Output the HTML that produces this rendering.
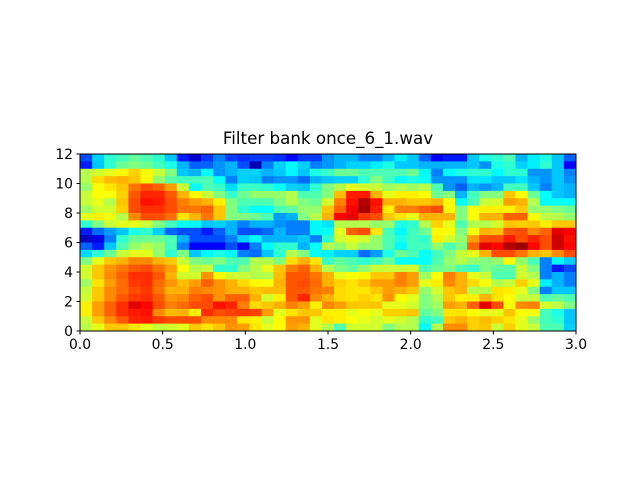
<!DOCTYPE html>
<html><head><meta charset="utf-8"><style>
html,body{margin:0;padding:0;background:#fff;}
svg{display:block;font-family:"DejaVu Sans","Liberation Sans",sans-serif;}
</style></head><body>
<svg id="chart" width="640" height="480" viewBox="0 0 640 480" xmlns="http://www.w3.org/2000/svg">
<rect width="640" height="480" fill="#fff"/>
<text x="328" y="144" text-anchor="middle" font-size="16.7">Filter bank once_6_1.wav</text>
<g id="cells"></g>
<rect x="80" y="154" width="496" height="177" fill="none" stroke="#000" stroke-width="1"/>
<g id="xaxis"></g>
<g id="yaxis"></g>
</svg>
<script>
const xTicks = [0.0, 0.5, 1.0, 1.5, 2.0, 2.5, 3.0];
const xTickLabels = ["0.0","0.5","1.0","1.5","2.0","2.5","3.0"];
const yTicks = [0, 2, 4, 6, 8, 10, 12];
const yTickLabels = ["0","2","4","6","8","10","12"];
const xMax = 3.0;
const yMax = 12;
// rows listed top (y=12) to bottom (y=0), 41 time frames each
const r00 = [0.2,0.33,0.42,0.44,0.47,0.45,0.42,0.32,0.15,0.08, 0.18,0.25,0.18,0.17,0.18,0.18,0.17,0.13,0.18,0.18, 0.27,0.3,0.3,0.25,0.25,0.3,0.36,0.32,0.22,0.12, 0.15,0.15,0.32,0.4,0.42,0.45,0.3,0.36,0.4,0.32,0.22];
const r01 = [0.15,0.32,0.42,0.48,0.5,0.48,0.44,0.4,0.3,0.22, 0.22,0.27,0.3,0.2,0.05,0.25,0.33,0.37,0.33,0.25, 0.27,0.3,0.33,0.33,0.36,0.4,0.32,0.32,0.3,0.3, 0.3,0.3,0.32,0.27,0.4,0.42,0.33,0.36,0.42,0.32,0.12];
const r02 = [0.55,0.58,0.6,0.63,0.67,0.63,0.57,0.5,0.32,0.3, 0.37,0.27,0.3,0.33,0.33,0.3,0.32,0.37,0.32,0.4, 0.43,0.48,0.48,0.45,0.45,0.45,0.45,0.48,0.37,0.25, 0.37,0.4,0.42,0.42,0.37,0.42,0.42,0.27,0.27,0.32,0.25];
const r03 = [0.55,0.66,0.69,0.7,0.68,0.63,0.52,0.46,0.44,0.44, 0.45,0.38,0.25,0.33,0.32,0.25,0.27,0.27,0.23,0.3, 0.32,0.33,0.33,0.42,0.5,0.44,0.37,0.4,0.38,0.27, 0.27,0.27,0.35,0.35,0.32,0.32,0.35,0.3,0.27,0.32,0.27];
const r04 = [0.52,0.62,0.65,0.68,0.76,0.8,0.78,0.72,0.57,0.38, 0.45,0.43,0.34,0.43,0.43,0.42,0.38,0.33,0.32,0.42, 0.5,0.55,0.6,0.58,0.57,0.53,0.55,0.53,0.55,0.45, 0.27,0.22,0.3,0.27,0.3,0.44,0.44,0.32,0.25,0.32,0.3];
const r05 = [0.57,0.62,0.62,0.67,0.79,0.84,0.84,0.79,0.7,0.63, 0.57,0.5,0.43,0.48,0.52,0.52,0.52,0.55,0.45,0.45, 0.5,0.69,0.85,0.85,0.7,0.6,0.64,0.64,0.62,0.48, 0.5,0.3,0.44,0.5,0.5,0.68,0.62,0.48,0.38,0.32,0.3];
const r06 = [0.57,0.6,0.55,0.68,0.8,0.86,0.85,0.8,0.75,0.72, 0.7,0.64,0.5,0.45,0.45,0.45,0.5,0.55,0.5,0.48, 0.58,0.75,0.86,0.95,0.86,0.7,0.7,0.68,0.68,0.7, 0.63,0.38,0.45,0.57,0.58,0.72,0.7,0.55,0.37,0.38,0.38];
const r07 = [0.53,0.58,0.58,0.67,0.8,0.83,0.83,0.8,0.76,0.76, 0.78,0.68,0.5,0.42,0.38,0.38,0.45,0.47,0.52,0.52, 0.68,0.78,0.88,0.96,0.85,0.64,0.75,0.75,0.78,0.8, 0.63,0.5,0.62,0.64,0.64,0.64,0.68,0.52,0.52,0.5,0.48];
const r08 = [0.6,0.64,0.61,0.55,0.74,0.8,0.8,0.77,0.65,0.7, 0.76,0.68,0.5,0.5,0.48,0.45,0.28,0.3,0.5,0.55, 0.7,0.87,0.9,0.82,0.8,0.68,0.65,0.6,0.7,0.7, 0.7,0.5,0.62,0.7,0.7,0.78,0.78,0.62,0.56,0.55,0.52];
const r09 = [0.42,0.5,0.57,0.6,0.6,0.57,0.5,0.44,0.38,0.37, 0.32,0.33,0.3,0.25,0.3,0.3,0.27,0.25,0.25,0.37, 0.35,0.55,0.55,0.55,0.52,0.52,0.4,0.42,0.55,0.67, 0.6,0.45,0.55,0.55,0.58,0.68,0.67,0.68,0.64,0.68,0.68];
const r10 = [0.15,0.23,0.28,0.32,0.4,0.42,0.33,0.22,0.2,0.2, 0.15,0.22,0.3,0.2,0.2,0.23,0.3,0.25,0.25,0.37, 0.38,0.6,0.78,0.8,0.65,0.44,0.37,0.44,0.48,0.63, 0.62,0.5,0.62,0.7,0.69,0.79,0.8,0.74,0.78,0.9,0.88];
const r11 = [0.06,0.1,0.25,0.42,0.48,0.48,0.48,0.45,0.3,0.2, 0.2,0.2,0.25,0.33,0.37,0.3,0.3,0.3,0.32,0.25, 0.42,0.58,0.6,0.58,0.52,0.45,0.4,0.44,0.42,0.64, 0.58,0.52,0.72,0.8,0.8,0.85,0.8,0.84,0.8,0.92,0.86];
const r12 = [0.22,0.15,0.32,0.45,0.52,0.55,0.52,0.44,0.25,0.12, 0.12,0.12,0.2,0.13,0.25,0.37,0.42,0.42,0.3,0.38, 0.55,0.52,0.57,0.52,0.52,0.45,0.37,0.44,0.44,0.52, 0.45,0.5,0.78,0.9,0.87,0.95,0.97,0.87,0.8,0.92,0.87];
const r13 = [0.34,0.42,0.48,0.57,0.6,0.6,0.52,0.42,0.5,0.32, 0.37,0.4,0.37,0.25,0.23,0.32,0.42,0.55,0.5,0.38, 0.36,0.33,0.33,0.23,0.28,0.4,0.48,0.45,0.38,0.44, 0.5,0.57,0.6,0.7,0.8,0.8,0.76,0.7,0.68,0.74,0.8];
const r14 = [0.5,0.6,0.68,0.7,0.74,0.74,0.7,0.68,0.57,0.5, 0.48,0.5,0.45,0.45,0.55,0.55,0.5,0.66,0.7,0.65, 0.43,0.47,0.45,0.42,0.44,0.48,0.38,0.38,0.38,0.45, 0.52,0.55,0.52,0.5,0.52,0.62,0.52,0.45,0.25,0.37,0.33];
const r15 = [0.58,0.68,0.73,0.76,0.79,0.8,0.76,0.72,0.62,0.55, 0.57,0.42,0.42,0.5,0.55,0.6,0.68,0.75,0.78,0.7, 0.55,0.5,0.47,0.52,0.57,0.57,0.57,0.58,0.45,0.48, 0.5,0.45,0.43,0.5,0.47,0.46,0.57,0.5,0.25,0.15,0.2];
const r16 = [0.58,0.68,0.74,0.78,0.83,0.83,0.79,0.7,0.58,0.58, 0.73,0.62,0.58,0.57,0.55,0.55,0.69,0.79,0.79,0.76, 0.7,0.6,0.62,0.63,0.68,0.68,0.75,0.72,0.53,0.62, 0.75,0.7,0.6,0.57,0.45,0.45,0.58,0.55,0.25,0.3,0.25];
const r17 = [0.53,0.65,0.72,0.77,0.82,0.83,0.77,0.73,0.69,0.72, 0.78,0.73,0.7,0.66,0.63,0.62,0.7,0.79,0.8,0.77, 0.7,0.67,0.65,0.68,0.72,0.72,0.75,0.72,0.6,0.64, 0.74,0.7,0.66,0.62,0.55,0.57,0.67,0.6,0.36,0.3,0.25];
const r18 = [0.57,0.68,0.74,0.77,0.8,0.82,0.76,0.7,0.7,0.75, 0.74,0.73,0.7,0.7,0.68,0.69,0.69,0.79,0.79,0.76, 0.75,0.66,0.65,0.65,0.68,0.72,0.7,0.68,0.52,0.58, 0.68,0.7,0.55,0.55,0.65,0.64,0.6,0.5,0.25,0.32,0.32];
const r19 = [0.58,0.68,0.74,0.79,0.82,0.83,0.79,0.73,0.74,0.78, 0.8,0.73,0.78,0.78,0.7,0.58,0.64,0.79,0.84,0.74, 0.7,0.66,0.65,0.67,0.65,0.73,0.63,0.6,0.5,0.55, 0.68,0.64,0.64,0.7,0.65,0.62,0.57,0.57,0.45,0.47,0.45];
const r20 = [0.64,0.72,0.78,0.83,0.9,0.87,0.8,0.75,0.77,0.8, 0.8,0.86,0.84,0.75,0.66,0.68,0.7,0.75,0.72,0.64, 0.74,0.72,0.68,0.68,0.68,0.6,0.6,0.58,0.5,0.53, 0.72,0.7,0.78,0.9,0.8,0.62,0.74,0.75,0.58,0.56,0.5];
const r21 = [0.64,0.72,0.78,0.83,0.85,0.86,0.74,0.69,0.7,0.64, 0.83,0.8,0.81,0.82,0.81,0.72,0.6,0.65,0.68,0.68, 0.64,0.64,0.6,0.62,0.6,0.67,0.67,0.68,0.47,0.5, 0.65,0.65,0.62,0.6,0.6,0.68,0.62,0.62,0.44,0.4,0.32];
const r22 = [0.57,0.68,0.74,0.79,0.84,0.85,0.82,0.8,0.8,0.8, 0.74,0.74,0.74,0.65,0.64,0.57,0.63,0.73,0.73,0.6, 0.65,0.64,0.62,0.6,0.58,0.6,0.58,0.55,0.42,0.44, 0.68,0.7,0.67,0.69,0.67,0.65,0.6,0.52,0.44,0.42,0.32];
const r23 = [0.56,0.6,0.68,0.68,0.65,0.6,0.57,0.58,0.6,0.68, 0.65,0.68,0.73,0.72,0.65,0.6,0.63,0.72,0.7,0.6, 0.55,0.45,0.58,0.58,0.58,0.5,0.55,0.55,0.37,0.55, 0.74,0.74,0.67,0.68,0.57,0.67,0.6,0.57,0.45,0.45,0.33];
const rows = [r00,r01,r02,r03,r04,r05,r06,r07,r08,r09,r10,r11,r12,r13,r14,r15,r16,r17,r18,r19,r20,r21,r22,r23];

const NS = "http://www.w3.org/2000/svg";
const PX0 = 80, PX1 = 576, PY0 = 331, PY1 = 154;
function xScale(v){ return PX0 + (v / xMax) * (PX1 - PX0); }
function yScale(v){ return PY0 - (v / yMax) * (PY0 - PY1); }
function clamp(v){ return Math.max(0, Math.min(1, v)); }
function jet(v){
  const r = clamp(1.5 - Math.abs(4*v - 3));
  const g = clamp(1.5 - Math.abs(4*v - 2));
  const b = clamp(1.5 - Math.abs(4*v - 1));
  return "rgb(" + Math.round(r*255) + "," + Math.round(g*255) + "," + Math.round(b*255) + ")";
}
const cells = document.getElementById("cells");
const nRows = rows.length;
rows.forEach(function(row, ri){
  const nCols = row.length;
  const yTop = yMax - ri * (yMax / nRows);
  const yBot = yMax - (ri + 1) * (yMax / nRows);
  row.forEach(function(val, ci){
    const x0 = xScale(ci * xMax / nCols), x1 = xScale((ci + 1) * xMax / nCols);
    const y0 = yScale(yTop), y1 = yScale(yBot);
    const rc = document.createElementNS(NS, "rect");
    rc.setAttribute("x", x0.toFixed(2));
    rc.setAttribute("y", y0.toFixed(2));
    rc.setAttribute("width", (x1 - x0 + 0.4).toFixed(2));
    rc.setAttribute("height", (y1 - y0 + 0.4).toFixed(2));
    rc.setAttribute("fill", jet(val));
    
    
    cells.appendChild(rc);
  });
});
const xa = document.getElementById("xaxis");
xTicks.forEach(function(t, i){
  const x = xScale(t);
  const ln = document.createElementNS(NS, "line");
  ln.setAttribute("x1", x); ln.setAttribute("x2", x);
  ln.setAttribute("y1", PY0); ln.setAttribute("y2", PY0 + 3.5);
  ln.setAttribute("stroke", "#000");
  
  
  xa.appendChild(ln);
  const tx = document.createElementNS(NS, "text");
  tx.setAttribute("x", x); tx.setAttribute("y", PY0 + 18);
  tx.setAttribute("text-anchor", "middle");
  tx.setAttribute("font-size", "13.9");
  tx.textContent = xTickLabels[i];
  
  
  xa.appendChild(tx);
});
const ya = document.getElementById("yaxis");
yTicks.forEach(function(t, i){
  const y = yScale(t);
  const ln = document.createElementNS(NS, "line");
  ln.setAttribute("x1", PX0 - 3.5); ln.setAttribute("x2", PX0);
  ln.setAttribute("y1", y); ln.setAttribute("y2", y);
  ln.setAttribute("stroke", "#000");
  
  
  ya.appendChild(ln);
  const tx = document.createElementNS(NS, "text");
  tx.setAttribute("x", PX0 - 7); tx.setAttribute("y", y + 5);
  tx.setAttribute("text-anchor", "end");
  tx.setAttribute("font-size", "13.9");
  tx.textContent = yTickLabels[i];
  
  
  ya.appendChild(tx);
});
</script>
</body></html>
